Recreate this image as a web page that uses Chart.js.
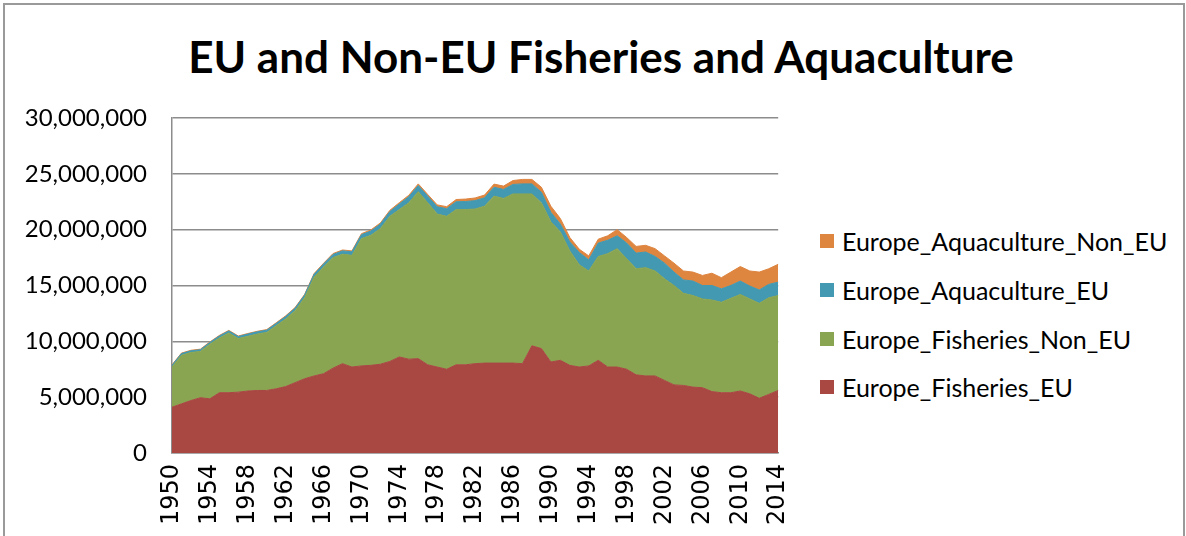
<!DOCTYPE html>
<html>
<head>
<meta charset="utf-8">
<title>EU and Non-EU Fisheries and Aquaculture</title>
<script src="https://cdn.jsdelivr.net/npm/chart.js@4.4.0/dist/chart.umd.min.js"></script>
<style>
    html, body { margin: 0; padding: 0; background: #fff; }
    body { width: 1186px; height: 536px; overflow: hidden; position: relative; font-family: Lato, sans-serif; }
    #frame { position: absolute; left: 3px; top: 3px; width: 1182px; height: 600px; border: 2px solid #9a9a9a; box-sizing: border-box; }
    #title { position: absolute; left: 16px; width: 1170px; top: 30px; text-align: center; font: bold 44px/53px Lato, sans-serif; color: #000; white-space: nowrap; }
    #chart { position: absolute; left: 0; top: 0; }
    .legend-item { position: absolute; left: 820px; height: 26px; display: flex; align-items: center; font: 25px/26px Lato, sans-serif; color: #000; white-space: nowrap; }
    .legend-box { width: 14px; height: 14px; margin-right: 8px; flex: none; }
</style>
</head>
<body>
<div id="frame"></div>
<div id="title">EU and Non-EU Fisheries and Aquaculture</div>
<canvas id="chart" width="818" height="536"></canvas>
<div id="legend"></div>
<script>
"use strict";

const years = [
    '1950', '1951', '1952', '1953', '1954', '1955', '1956', '1957', '1958', '1959',
    '1960', '1961', '1962', '1963', '1964', '1965', '1966', '1967', '1968', '1969',
    '1970', '1971', '1972', '1973', '1974', '1975', '1976', '1977', '1978', '1979',
    '1980', '1981', '1982', '1983', '1984', '1985', '1986', '1987', '1988', '1989',
    '1990', '1991', '1992', '1993', '1994', '1995', '1996', '1997', '1998', '1999',
    '2000', '2001', '2002', '2003', '2004', '2005', '2006', '2007', '2008', '2009',
    '2010', '2011', '2012', '2013', '2014'
];

// tonnes
const fisheriesEU = [
    4100000, 4400000, 4700000, 4950000, 4850000, 5400000, 5400000, 5450000, 5550000, 5600000,
    5600000, 5750000, 5950000, 6300000, 6650000, 6900000, 7100000, 7600000, 8000000, 7700000,
    7800000, 7850000, 7950000, 8200000, 8600000, 8400000, 8450000, 7900000, 7700000, 7500000,
    7900000, 7900000, 8000000, 8050000, 8050000, 8050000, 8050000, 8000000, 9600000, 9350000,
    8150000, 8300000, 7850000, 7700000, 7800000, 8300000, 7700000, 7700000, 7500000, 7000000,
    6900000, 6900000, 6500000, 6100000, 6050000, 5900000, 5850000, 5500000, 5400000, 5400000,
    5550000, 5300000, 4900000, 5250000, 5600000
];
const fisheriesNonEU = [
    3600000, 4350000, 4300000, 4150000, 4900000, 4900000, 5350000, 4800000, 4900000, 5050000,
    5200000, 5650000, 6050000, 6450000, 7250000, 8850000, 9550000, 9900000, 9800000, 10000000,
    11400000, 11650000, 12150000, 13000000, 13200000, 14000000, 14950000, 14500000, 13700000, 13700000,
    13900000, 13900000, 13850000, 14050000, 14950000, 14750000, 15150000, 15200000, 13600000, 13050000,
    12550000, 11500000, 10250000, 9150000, 8500000, 9300000, 10150000, 10600000, 9900000, 9500000,
    9700000, 9400000, 9100000, 8900000, 8250000, 8200000, 7950000, 8200000, 8100000, 8450000,
    8650000, 8500000, 8500000, 8650000, 8500000
];
const aquacultureEU = [
    150000, 150000, 150000, 150000, 150000, 180000, 180000, 180000, 200000, 200000,
    200000, 200000, 220000, 220000, 240000, 250000, 270000, 280000, 300000, 320000,
    350000, 380000, 400000, 420000, 500000, 550000, 550000, 600000, 650000, 680000,
    700000, 720000, 750000, 750000, 800000, 800000, 850000, 900000, 900000, 950000,
    850000, 700000, 800000, 1100000, 1000000, 1200000, 1200000, 1150000, 1400000, 1400000,
    1400000, 1300000, 1400000, 1200000, 1200000, 1300000, 1200000, 1300000, 1200000, 1150000,
    1200000, 1150000, 1200000, 1200000, 1200000
];
const aquacultureNonEU = [
    50000, 50000, 50000, 50000, 50000, 50000, 50000, 50000, 50000, 50000,
    50000, 60000, 60000, 60000, 60000, 70000, 70000, 80000, 80000, 80000,
    90000, 100000, 100000, 110000, 120000, 130000, 150000, 150000, 170000, 180000,
    200000, 220000, 240000, 250000, 280000, 300000, 350000, 400000, 400000, 450000,
    550000, 500000, 400000, 300000, 350000, 350000, 400000, 550000, 500000, 600000,
    600000, 700000, 650000, 800000, 800000, 800000, 900000, 1100000, 1000000, 1200000,
    1300000, 1350000, 1600000, 1400000, 1600000
];

const seriesNames = ['Europe_Fisheries_EU', 'Europe_Fisheries_Non_EU', 'Europe_Aquaculture_EU', 'Europe_Aquaculture_Non_EU'];
const seriesColors = ['#A94743', '#8AA552', '#4299B1', '#DE8540'];
const seriesValues = [fisheriesEU, fisheriesNonEU, aquacultureEU, aquacultureNonEU];
const yTicks = [0, 5000000, 10000000, 15000000, 20000000, 25000000, 30000000];

function buildLegend() {
    const legend = document.getElementById('legend');
    const tops = [228, 277, 326, 374];
    // Excel lists the top area first
    for (let index = seriesNames.length - 1; index >= 0; index--) {
        const row = document.createElement('div');
        row.className = 'legend-item';
        row.style.top = tops[seriesNames.length - 1 - index] + 'px';
        row.innerHTML = `<span class="legend-box" style="background:${seriesColors[index]}"></span><span>${seriesNames[index]}</span>`;
        legend.appendChild(row);
    }
}

function drawChart() {
    const datasets = seriesNames.map((name, index) => ({
        label: name,
        data: seriesValues[index],
        backgroundColor: seriesColors[index],
        borderColor: seriesColors[index],
        borderWidth: 1,
        pointRadius: 0,
        tension: 0,
        fill: index === 0 ? 'origin' : '-1'
    }));

    const ctx = document.getElementById('chart').getContext('2d');
    new Chart(ctx, {
        type: 'line',
        data: { labels: years, datasets: datasets },
        options: {
            responsive: false,
            animation: false,
            devicePixelRatio: 1,
            layout: { padding: { left: 0, right: 0, top: 118, bottom: 0 } },
            plugins: {
                legend: { display: false },
                title: { display: false },
                tooltip: { enabled: false }
            },
            scales: {
                x: {
                    grid: { display: false, drawTicks: false },
                    border: { display: true, color: '#8c8c8c', width: 1.5 },
                    ticks: {
                        autoSkip: false,
                        maxRotation: 90,
                        minRotation: 90,
                        padding: 11,
                        color: '#000',
                        font: { family: 'DejaVu Sans', size: 24 },
                        callback: function (value, index) {
                            return index % 4 === 0 ? years[index] : '';
                        }
                    },
                    afterFit: scale => { scale.height = 83; }
                },
                y: {
                    stacked: true,
                    min: yTicks[0],
                    max: yTicks[yTicks.length - 1],
                    afterBuildTicks: scale => { scale.ticks = yTicks.map(v => ({ value: v })); },
                    grid: { color: '#8c8c8c', lineWidth: 1.5, drawTicks: false },
                    border: { display: true, color: '#8c8c8c', width: 1.5 },
                    ticks: {
                        padding: 25,
                        color: '#000',
                        font: { family: 'Lato', size: 24 },
                        callback: value => value.toLocaleString('en-US')
                    },
                    afterFit: scale => { scale.width = 172; }
                }
            }
        }
    });
}

buildLegend();
drawChart();
</script>
</body>
</html>
